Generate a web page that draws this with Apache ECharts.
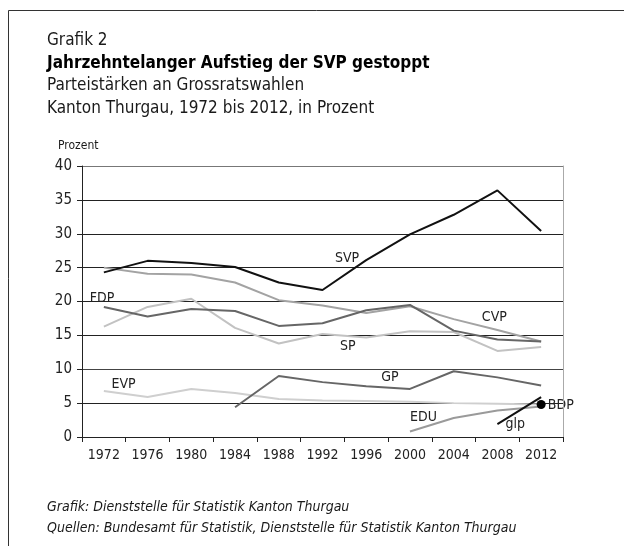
<!DOCTYPE html>
<html>
<head>
<meta charset="utf-8">
<script src="https://cdn.jsdelivr.net/npm/echarts@6/dist/echarts.min.js"></script>
<style>
  html, body { margin: 0; padding: 0; background: #fff; }
  #main { width: 624px; height: 546px; }
</style>
</head>
<body>
<div id="main"></div>
<script>
const FONT = '"Liberation Sans Narrow", "DejaVu Sans Condensed", "Liberation Sans", sans-serif';

// Wahljahre
const years = ['1972', '1976', '1980', '1984', '1988', '1992', '1996', '2000', '2004', '2008', '2012'];

// Parteistärken in Prozent
const svp = [24.3, 26.0, 25.7, 25.1, 22.8, 21.7, 26.1, 29.9, 32.8, 36.4, 30.4];
const cvp = [25.0, 24.1, 24.0, 22.8, 20.2, 19.4, 18.3, 19.3, 17.4, 15.8, 14.1];
const fdp = [19.2, 17.8, 18.9, 18.6, 16.4, 16.8, 18.7, 19.5, 15.7, 14.4, 14.1];
const sp = [16.3, 19.2, 20.4, 16.1, 13.8, 15.2, 14.7, 15.6, 15.5, 12.7, 13.3];
const evp = [6.8, 5.9, 7.1, 6.5, 5.6, 5.4, 5.3, 5.2, 5.0, 4.9, 4.8];
const gp = [null, null, null, 4.4, 9.0, 8.1, 7.5, 7.1, 9.7, 8.8, 7.6];
const edu = [null, null, null, null, null, null, null, 0.8, 2.8, 3.9, 4.5];
const glp = [null, null, null, null, null, null, null, null, null, 1.9, 5.9];
const bdp = [null, null, null, null, null, null, null, null, null, null, 4.8];

// Beschriftungen der Linien: [Text, Kategorie-Index, Wert]
const lineLabels = [
  ['SVP', 5.56, 26.3],
  ['FDP', -0.04, 20.5],
  ['CVP', 8.93, 17.7],
  ['SP', 5.58, 13.4],
  ['GP', 6.54, 8.8],
  ['EVP', 0.45, 7.8],
  ['EDU', 7.31, 2.9],
  ['glp', 9.41, 1.9],
  ['BDP', 10.45, 4.6]
];

const myChart = echarts.init(document.getElementById('main'));

const lineSeries = (name, data, color, width) => ({
  name: name,
  type: 'line',
  data: data,
  symbol: 'none',
  connectNulls: false,
  lineStyle: { color: color, width: width },
  itemStyle: { color: color },
  z: 3
});

const text = (x, y, str, size, extra) => ({
  type: 'text',
  x: x,
  y: y,
  style: Object.assign({
    text: str,
    font: size + 'px ' + FONT,
    fill: '#1a1a1a',
    textVerticalAlign: 'middle'
  }, extra || {})
});

const option = {
  animation: false,
  grid: { left: 82, top: 166, right: 61, bottom: 109, containLabel: false },
  xAxis: {
    type: 'category',
    data: years,
    boundaryGap: true,
    axisLine: { lineStyle: { color: '#222', width: 1 } },
    axisTick: { show: true, length: 5, lineStyle: { color: '#222' } },
    axisLabel: { color: '#222', fontFamily: FONT, fontSize: 14, margin: 11, interval: 0 },
    splitLine: { show: false }
  },
  yAxis: [{
    type: 'value',
    min: 0,
    max: 40,
    interval: 5,
    axisLine: { show: true, lineStyle: { color: '#222', width: 1 } },
    axisTick: { show: true, length: 5, lineStyle: { color: '#222' } },
    axisLabel: { color: '#222', fontFamily: FONT, fontSize: 15, margin: 10 },
    splitLine: {
      show: true,
      lineStyle: { color: ['#222', '#222', '#444', '#222', '#222', '#222', '#222', '#222', '#777'], width: 1 }
    }
  }, {
    type: 'value',
    position: 'right',
    min: 0,
    max: 40,
    interval: 5,
    axisLine: { show: true, lineStyle: { color: '#aaa', width: 1 } },
    axisTick: { show: false },
    axisLabel: { show: false },
    splitLine: { show: false }
  }],
  series: [
    lineSeries('EVP', evp, '#cfcfcf', 2),
    lineSeries('SP', sp, '#c2c2c2', 2),
    lineSeries('CVP', cvp, '#a3a3a3', 2),
    lineSeries('EDU', edu, '#9a9a9a', 2),
    lineSeries('FDP', fdp, '#666', 2),
    lineSeries('GP', gp, '#666', 2),
    lineSeries('SVP', svp, '#111', 2),
    lineSeries('glp', glp, '#111', 2),
    {
      name: 'BDP',
      type: 'line',
      data: bdp,
      symbol: 'circle',
      symbolSize: 9,
      showAllSymbol: true,
      itemStyle: { color: '#000' },
      lineStyle: { width: 0 },
      z: 4
    }
  ]
};

myChart.setOption(option);

// Linienbeschriftungen über die Achsen in Pixel umrechnen
const x0 = myChart.convertToPixel({ xAxisIndex: 0 }, years[0]);
const x1 = myChart.convertToPixel({ xAxisIndex: 0 }, years[1]);
const labelGraphics = lineLabels.map((l) => {
  const x = x0 + l[1] * (x1 - x0);
  const y = myChart.convertToPixel({ yAxisIndex: 0 }, l[2]);
  return text(x, y, l[0], 14, { textAlign: 'center', fill: '#222' });
});

myChart.setOption({
  graphic: [
    {
      type: 'rect',
      shape: { x: 8.5, y: 10.5, width: 700, height: 700 },
      style: { fill: null, stroke: '#333', lineWidth: 1 },
      silent: true
    },
    text(47, 41, 'Grafik 2', 17),
    text(47, 64, 'Jahrzehntelanger Aufstieg der SVP gestoppt', 17, { font: 'bold 17px ' + FONT, fill: '#000' }),
    text(47, 86, 'Parteistärken an Grossratswahlen', 17),
    text(47, 109, 'Kanton Thurgau, 1972 bis 2012, in Prozent', 17),
    text(58, 146, 'Prozent', 12),
    text(47, 507, 'Grafik: Dienststelle für Statistik Kanton Thurgau', 14, { font: 'italic 14px ' + FONT }),
    text(47, 528, 'Quellen: Bundesamt für Statistik, Dienststelle für Statistik Kanton Thurgau', 14, { font: 'italic 14px ' + FONT })
  ].concat(labelGraphics)
});
</script>
</body>
</html>
